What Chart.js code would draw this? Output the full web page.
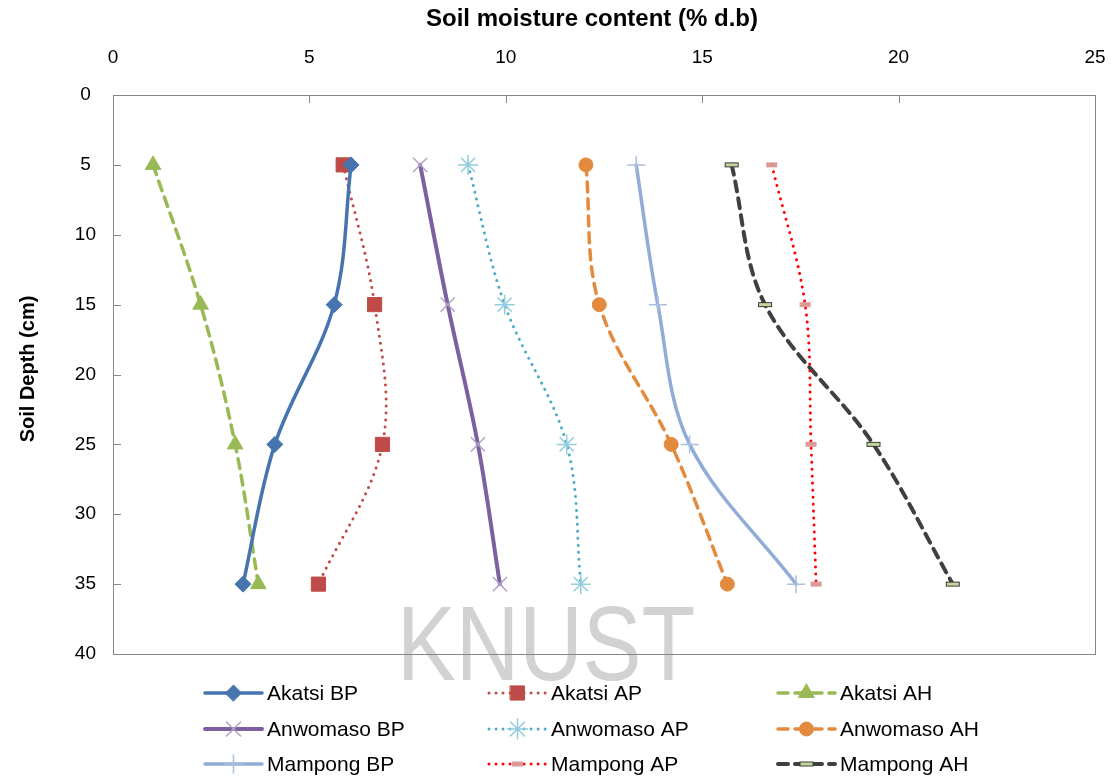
<!DOCTYPE html>
<html>
<head>
<meta charset="utf-8">
<script src="https://cdn.jsdelivr.net/npm/chart.js@4.4.1/dist/chart.umd.min.js"></script>
<style>
  html, body { margin: 0; padding: 0; background: #ffffff; }
  #wrap { width: 1114px; height: 778px; position: relative; }
</style>
</head>
<body>
<div id="wrap"><canvas id="chart" width="1114" height="778"></canvas></div>
<script>
// Sampling depths (cm) and soil moisture content (% d.b) per site / treatment
const depths = [5, 15, 25, 35];

const akatsiBP   = [6.06, 5.63, 4.12, 3.31];
const akatsiAP   = [5.86, 6.66, 6.86, 5.23];
const akatsiAH   = [1.02, 2.23, 3.11, 3.70];
const anwomasoBP = [7.82, 8.52, 9.29, 9.85];
const anwomasoAP = [9.04, 9.97, 11.55, 11.91];
const anwomasoAH = [12.04, 12.38, 14.21, 15.64];
const mampongBP  = [13.32, 13.87, 14.68, 17.39];
const mampongAP  = [16.77, 17.62, 17.77, 17.90];
const mampongAH  = [15.75, 16.60, 19.36, 21.38];

const seriesNames = [
  'Akatsi BP', 'Akatsi AP', 'Akatsi AH',
  'Anwomaso BP', 'Anwomaso AP', 'Anwomaso AH',
  'Mampong BP', 'Mampong AP', 'Mampong AH'
];

const moistureTicks = [0, 5, 10, 15, 20, 25];
const depthTicks = [0, 5, 10, 15, 20, 25, 30, 35, 40];

const xTitle = 'Soil moisture content (% d.b)';
const yTitle = 'Soil Depth (cm)';
const watermark = 'KNUST';

// small bar-shaped markers used by the Mampong AP / AH series
function barMarker(w, h, fill, stroke) {
  const c = document.createElement('canvas');
  c.width = w + 2; c.height = h + 2;
  const g = c.getContext('2d');
  g.fillStyle = fill;
  g.fillRect(1, 1, w, h);
  if (stroke) {
    g.strokeStyle = stroke;
    g.lineWidth = 1;
    g.strokeRect(1.5, 1.5, w - 1, h - 1);
  }
  return c;
}
const apBar = barMarker(11, 5, 'rgba(217,150,148,0.95)', null);
const ahBar = barMarker(14, 5, '#C3D69B', '#3a3a3a');

function pts(vals) {
  return vals.map((v, i) => ({ x: v, y: depths[i] }));
}

const DOT = [0.01, 7];
const DASH = [10, 7];

const styles = [
  { data: akatsiBP,   color: '#4674AE', width: 3.5, dash: [],   pStyle: 'rectRot',  pR: 8,  pFill: '#4674AE', pLine: '#4674AE', pW: 1 },
  { data: akatsiAP,   color: '#BE4B48', width: 3,   dash: DOT,  pStyle: 'rect',     pR: 10, pFill: '#BE4B48', pLine: '#BE4B48', pW: 1 },
  { data: akatsiAH,   color: '#98B954', width: 3.5, dash: DASH, pStyle: 'triangle', pR: 9,  pFill: '#98B954', pLine: '#98B954', pW: 1 },
  { data: anwomasoBP, color: '#7D60A0', width: 4,   dash: [],   pStyle: 'crossRot', pR: 10, pFill: '#B3A2C7', pLine: '#B3A2C7', pW: 1.5 },
  { data: anwomasoAP, color: '#4BACC6', width: 3,   dash: DOT,  pStyle: 'star',     pR: 10, pFill: '#93CDDD', pLine: '#93CDDD', pW: 1.5 },
  { data: anwomasoAH, color: '#E48A3F', width: 3.5, dash: DASH, pStyle: 'circle',   pR: 7,  pFill: '#E48A3F', pLine: '#E48A3F', pW: 1 },
  { data: mampongBP,  color: '#91ACD6', width: 3.5, dash: [],   pStyle: 'cross',    pR: 9,  pFill: '#A9BFE0', pLine: '#A9BFE0', pW: 1.5 },
  { data: mampongAP,  color: '#FF0000', width: 3,   dash: DOT,  pStyle: apBar,      pR: 6,  pFill: '#D99694', pLine: '#D99694', pW: 0 },
  { data: mampongAH,  color: '#404040', width: 4,   dash: DASH, pStyle: ahBar,      pR: 7,  pFill: '#C3D69B', pLine: '#3a3a3a', pW: 0 }
];

const datasets = styles.map((s, i) => ({
  label: seriesNames[i],
  data: pts(s.data),
  borderColor: s.color,
  backgroundColor: s.color,
  borderWidth: s.width,
  borderDash: s.dash,
  borderCapStyle: 'round',
  borderJoinStyle: 'round',
  tension: 0.35,
  fill: false,
  pointStyle: s.pStyle,
  pointRadius: s.pR,
  pointBackgroundColor: s.pFill,
  pointBorderColor: s.pLine,
  pointBorderWidth: s.pW,
  pointHoverRadius: s.pR
}));

const AXIS_GREY = '#868686';
const FONT = "'Liberation Sans', Arial, sans-serif";

// frame, inward tick marks and the faint background lettering
const framePlugin = {
  id: 'frame',
  beforeDatasetsDraw(chart) {
    const { ctx, chartArea: a, scales } = chart;
    ctx.save();
    ctx.fillStyle = '#d2d2d2';
    ctx.font = '106px ' + FONT;
    ctx.textBaseline = 'alphabetic';
    ctx.translate(397, 680);
    ctx.scale(0.83, 1);
    ctx.fillText(watermark, 0, 0);
    ctx.restore();

    ctx.save();
    ctx.strokeStyle = AXIS_GREY;
    ctx.lineWidth = 1;
    ctx.strokeRect(Math.round(a.left) + 0.5, Math.round(a.top) + 0.5,
                   Math.round(a.right - a.left), Math.round(a.bottom - a.top));
    ctx.beginPath();
    depthTicks.forEach(t => {
      const y = Math.round(scales.y.getPixelForValue(t)) + 0.5;
      ctx.moveTo(a.left, y); ctx.lineTo(a.left + 8, y);
    });
    moistureTicks.forEach(t => {
      const x = Math.round(scales.x.getPixelForValue(t)) + 0.5;
      ctx.moveTo(x, a.top); ctx.lineTo(x, a.top + 8);
    });
    ctx.stroke();
    ctx.restore();
  },
  afterDraw(chart) {
    const { ctx } = chart;
    ctx.save();
    ctx.fillStyle = '#000';
    ctx.textAlign = 'center';
    ctx.textBaseline = 'middle';
    ctx.font = 'bold 24px ' + FONT;
    ctx.fillText(xTitle, 592, 19);
    ctx.font = 'bold 20px ' + FONT;
    ctx.translate(28, 369);
    ctx.rotate(-Math.PI / 2);
    ctx.fillText(yTitle, 0, 0);
    ctx.restore();
  }
};

// three-column legend under the plot
const legendPlugin = {
  id: 'gridLegend',
  afterDraw(chart) {
    const { ctx } = chart;
    const colX = [205, 489, 778];
    const rowY = [693, 729, 764];
    chart.data.datasets.forEach((ds, i) => {
      const x0 = colX[i % 3];
      const y = rowY[Math.floor(i / 3)];
      const len = 57;
      ctx.save();
      ctx.strokeStyle = ds.borderColor;
      ctx.lineWidth = ds.borderWidth;
      ctx.lineCap = ds.borderCapStyle;
      ctx.setLineDash(ds.borderDash);
      ctx.beginPath();
      ctx.moveTo(x0, y); ctx.lineTo(x0 + len, y);
      ctx.stroke();
      ctx.setLineDash([]);
      ctx.fillStyle = ds.pointBackgroundColor;
      ctx.strokeStyle = ds.pointBorderColor;
      ctx.lineWidth = ds.pointBorderWidth;
      Chart.helpers.drawPoint(ctx, {
        pointStyle: ds.pointStyle,
        radius: ds.pointRadius,
        rotation: 0,
        borderWidth: ds.pointBorderWidth
      }, x0 + len / 2, y);
      ctx.fillStyle = '#000';
      ctx.font = '21px ' + FONT;
      ctx.textAlign = 'left';
      ctx.textBaseline = 'middle';
      ctx.fillText(ds.label, x0 + len + 5, y + 1);
      ctx.restore();
    });
  }
};

new Chart(document.getElementById('chart'), {
  type: 'line',
  data: { datasets },
  options: {
    responsive: false,
    animation: false,
    events: [],
    layout: { padding: { left: 0, top: 0, right: 19, bottom: 124 } },
    plugins: { legend: { display: false }, tooltip: { enabled: false } },
    scales: {
      x: {
        type: 'linear',
        position: 'top',
        min: 0, max: 25,
        afterFit(s) { s.height = 95; s.paddingLeft = 0; s.paddingRight = 0; },
        afterBuildTicks(s) { s.ticks = moistureTicks.map(v => ({ value: v })); },
        ticks: { color: '#000', font: { family: FONT, size: 19 }, padding: 26 },
        grid: { display: false, drawTicks: false },
        border: { display: false }
      },
      y: {
        type: 'linear',
        reverse: true,
        min: 0, max: 40,
        afterFit(s) { s.width = 113; s.paddingTop = 0; s.paddingBottom = 0; },
        afterBuildTicks(s) { s.ticks = depthTicks.map(v => ({ value: v })); },
        ticks: { color: '#000', font: { family: FONT, size: 19 }, padding: 17, crossAlign: 'center' },
        grid: { display: false, drawTicks: false },
        border: { display: false }
      }
    }
  },
  plugins: [framePlugin, legendPlugin]
});
</script>
</body>
</html>
